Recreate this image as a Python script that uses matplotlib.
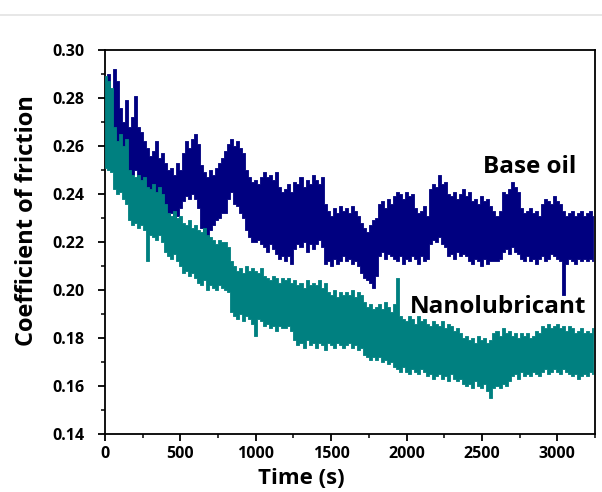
import numpy as np
import matplotlib
matplotlib.use("Agg")
import matplotlib.pyplot as plt
from matplotlib.lines import Line2D
from matplotlib.ticker import MultipleLocator

# Upper / lower extent of the (very noisy) friction traces, every 20 s
base_upper = [
    0.286, 0.290, 0.283, 0.292, 0.287, 0.276, 0.270, 0.279, 0.268, 0.272,
    0.281, 0.268, 0.266, 0.262, 0.259, 0.256, 0.258, 0.262, 0.255, 0.257,
    0.253, 0.250, 0.251, 0.248, 0.253, 0.250, 0.257, 0.262, 0.259, 0.263,
    0.265, 0.261, 0.252, 0.249, 0.247, 0.250, 0.248, 0.251, 0.253, 0.255,
    0.258, 0.261, 0.263, 0.260, 0.262, 0.259, 0.257, 0.250, 0.247, 0.245,
    0.246, 0.244, 0.247, 0.249, 0.247, 0.248, 0.246, 0.249, 0.243, 0.241,
    0.242, 0.244, 0.241, 0.245, 0.244, 0.247, 0.243, 0.246, 0.244, 0.248,
    0.246, 0.244, 0.247, 0.236, 0.233, 0.231, 0.234, 0.232, 0.235, 0.233,
    0.234, 0.232, 0.235, 0.233, 0.231, 0.228, 0.226, 0.224, 0.227, 0.229,
    0.230, 0.236, 0.237, 0.234, 0.238, 0.236, 0.239, 0.241, 0.240, 0.238,
    0.241, 0.239, 0.240, 0.234, 0.232, 0.233, 0.235, 0.231, 0.242, 0.244,
    0.243, 0.248, 0.244, 0.245, 0.240, 0.239, 0.241, 0.238, 0.240, 0.242,
    0.239, 0.241, 0.237, 0.238, 0.236, 0.239, 0.237, 0.238, 0.235, 0.233,
    0.231, 0.233, 0.241, 0.240, 0.242, 0.245, 0.243, 0.241, 0.234, 0.232,
    0.233, 0.234, 0.232, 0.233, 0.231, 0.236, 0.238, 0.237, 0.236, 0.239,
    0.237, 0.236, 0.233, 0.231, 0.232, 0.233, 0.231, 0.232, 0.233, 0.231,
    0.232, 0.233, 0.231,
]
base_lower = [
    0.262, 0.265, 0.260, 0.266, 0.259, 0.258, 0.256, 0.259, 0.250, 0.248,
    0.250, 0.247, 0.245, 0.246, 0.240, 0.237, 0.236, 0.238, 0.234, 0.236,
    0.233, 0.230, 0.232, 0.229, 0.231, 0.234, 0.237, 0.239, 0.238, 0.240,
    0.238, 0.234, 0.226, 0.224, 0.222, 0.225, 0.227, 0.229, 0.230, 0.232,
    0.232, 0.238, 0.241, 0.236, 0.235, 0.232, 0.230, 0.225, 0.222, 0.220,
    0.220, 0.221, 0.219, 0.218, 0.216, 0.219, 0.217, 0.215, 0.213, 0.214,
    0.212, 0.214, 0.211, 0.217, 0.219, 0.218, 0.220, 0.216, 0.219, 0.217,
    0.219, 0.221, 0.218, 0.211, 0.212, 0.210, 0.213, 0.211, 0.212, 0.214,
    0.212, 0.213, 0.211, 0.212, 0.210, 0.207, 0.205, 0.204, 0.203, 0.201,
    0.206, 0.214, 0.216, 0.213, 0.215, 0.214, 0.213, 0.212, 0.214, 0.211,
    0.213, 0.212, 0.214, 0.213, 0.211, 0.214, 0.212, 0.213, 0.219, 0.221,
    0.220, 0.222, 0.219, 0.218, 0.214, 0.215, 0.213, 0.216, 0.214, 0.215,
    0.214, 0.212, 0.211, 0.213, 0.212, 0.210, 0.213, 0.211, 0.212, 0.212,
    0.212, 0.213, 0.216, 0.217, 0.215, 0.218, 0.216, 0.215, 0.213, 0.212,
    0.214, 0.212, 0.213, 0.211, 0.213, 0.214, 0.212, 0.213, 0.215, 0.214,
    0.213, 0.212, 0.198, 0.211, 0.213, 0.212, 0.211, 0.213, 0.212, 0.213,
    0.212, 0.213, 0.212,
]
nano_upper = [
    0.289, 0.287, 0.284, 0.268, 0.262, 0.265, 0.260, 0.263, 0.250, 0.248,
    0.247, 0.248, 0.246, 0.247, 0.243, 0.242, 0.244, 0.241, 0.243, 0.240,
    0.236, 0.232, 0.231, 0.233, 0.230, 0.231, 0.228, 0.227, 0.229, 0.226,
    0.227, 0.225, 0.224, 0.226, 0.223, 0.222, 0.221, 0.219, 0.221, 0.220,
    0.220, 0.218, 0.212, 0.210, 0.208, 0.209, 0.207, 0.210, 0.208, 0.209,
    0.208, 0.207, 0.209, 0.206, 0.205, 0.204, 0.206, 0.205, 0.203, 0.205,
    0.204, 0.205, 0.203, 0.204, 0.202, 0.203, 0.201, 0.204, 0.202, 0.203,
    0.202, 0.204, 0.201, 0.203, 0.199, 0.198, 0.200, 0.197, 0.199, 0.198,
    0.199, 0.198, 0.200, 0.197, 0.199, 0.198, 0.195, 0.193, 0.194, 0.192,
    0.193, 0.194, 0.192, 0.195, 0.193, 0.191, 0.194, 0.205, 0.189, 0.188,
    0.187, 0.189, 0.188, 0.186, 0.189, 0.187, 0.188, 0.186, 0.185, 0.187,
    0.186, 0.185, 0.187, 0.184, 0.186, 0.185, 0.183, 0.184, 0.182, 0.180,
    0.181, 0.179, 0.180, 0.178, 0.181, 0.179, 0.180, 0.178, 0.179, 0.182,
    0.183, 0.181, 0.184, 0.182, 0.183, 0.181, 0.182, 0.180, 0.182, 0.181,
    0.182, 0.180, 0.181, 0.183, 0.182, 0.185, 0.184, 0.186, 0.184, 0.185,
    0.186, 0.184, 0.185, 0.183, 0.185, 0.184, 0.182, 0.183, 0.184, 0.182,
    0.183, 0.182, 0.184,
]
nano_lower = [
    0.251, 0.250, 0.249, 0.242, 0.240, 0.241, 0.238, 0.236, 0.229, 0.227,
    0.228, 0.226, 0.227, 0.225, 0.212, 0.223, 0.222, 0.221, 0.223, 0.220,
    0.216, 0.214, 0.213, 0.215, 0.212, 0.210, 0.207, 0.208, 0.206, 0.207,
    0.205, 0.203, 0.202, 0.204, 0.200, 0.202, 0.201, 0.200, 0.202, 0.201,
    0.200, 0.199, 0.191, 0.189, 0.188, 0.190, 0.187, 0.189, 0.188, 0.186,
    0.181, 0.188, 0.187, 0.185, 0.186, 0.184, 0.185, 0.183, 0.185, 0.184,
    0.184, 0.185, 0.183, 0.179, 0.177, 0.178, 0.176, 0.179, 0.177, 0.178,
    0.176, 0.178, 0.177, 0.175, 0.178, 0.177, 0.176, 0.178, 0.177, 0.176,
    0.177, 0.178, 0.176, 0.177, 0.175, 0.176, 0.173, 0.172, 0.171, 0.172,
    0.171, 0.172, 0.170, 0.171, 0.169, 0.170, 0.168, 0.167, 0.166, 0.168,
    0.166, 0.165, 0.167, 0.166, 0.165, 0.167, 0.166, 0.164, 0.165, 0.163,
    0.164, 0.165, 0.163, 0.164, 0.162, 0.165, 0.163, 0.162, 0.163, 0.161,
    0.160, 0.161, 0.159, 0.162, 0.160, 0.159, 0.161, 0.158, 0.155, 0.159,
    0.160, 0.159, 0.161, 0.160, 0.162, 0.164, 0.165, 0.163, 0.166, 0.164,
    0.165, 0.164, 0.166, 0.165, 0.164, 0.166, 0.167, 0.165, 0.166, 0.167,
    0.166, 0.165, 0.167, 0.166, 0.165, 0.164, 0.165, 0.163, 0.164, 0.165,
    0.164, 0.166, 0.165,
]

t_start, t_end = 0, 3240
time_base = np.linspace(t_start, t_end, len(base_upper))
time_nano = np.linspace(t_start, t_end, len(nano_upper))

x_ticks = [0, 500, 1000, 1500, 2000, 2500, 3000]
y_ticks = [0.14, 0.16, 0.18, 0.20, 0.22, 0.24, 0.26, 0.28, 0.30]

navy = '#000080'
teal = '#008080'

plt.rcParams['font.family'] = ['Open Sans', 'DejaVu Sans']
plt.rcParams['font.weight'] = 'bold'

fig = plt.figure(figsize=(6.02, 4.92), dpi=100)
ax = fig.add_axes([105/602, 58/492, 490/602, 384/492])

# thin gray line near top of page
fig.add_artist(Line2D([0, 1], [1 - 15/492, 1 - 15/492], transform=fig.transFigure,
                      color='#e3e3e3', lw=1.2))

ax.fill_between(time_base, base_lower, base_upper, step='mid',
                facecolor=navy, edgecolor=navy, lw=0.6, zorder=2)
ax.fill_between(time_nano, nano_lower, nano_upper, step='mid',
                facecolor=teal, edgecolor=teal, lw=0.6, zorder=3)

ax.set_xlim(0, 3250)
ax.set_ylim(0.14, 0.30)
ax.set_xticks(x_ticks)
ax.set_yticks(y_ticks)
ax.set_yticklabels([f"{v:.2f}" for v in y_ticks])
ax.xaxis.set_minor_locator(MultipleLocator(250))
ax.yaxis.set_minor_locator(MultipleLocator(0.01))

for s in ax.spines.values():
    s.set_linewidth(1.3)
ax.tick_params(which='major', direction='out', length=5, width=1.3, labelsize=11.5)
ax.tick_params(axis='y', which='major', pad=10)
ax.tick_params(axis='x', which='major', pad=4)
ax.tick_params(which='minor', direction='out', length=3, width=1.1)
for lab in ax.get_xticklabels() + ax.get_yticklabels():
    lab.set_fontweight('bold')

ax.set_xlabel('Time (s)', fontsize=16, fontweight='bold', va='center')
ax.xaxis.set_label_coords((301 - 105) / 490, (434 - 479) / 384)
ax.set_ylabel('Coefficient of friction', fontsize=17, fontweight='bold', va='center')
ax.yaxis.set_label_coords((27 - 105) / 490, (434 - 221) / 384)

ax.text(2507, 0.2487, 'Base oil', fontsize=17.5, fontweight='bold',
        ha='left', va='baseline', zorder=5)
ax.text(2023, 0.1904, 'Nanolubricant', fontsize=17.5, fontweight='bold',
        ha='left', va='baseline', zorder=5)

fig.savefig('out.png', dpi=100)
